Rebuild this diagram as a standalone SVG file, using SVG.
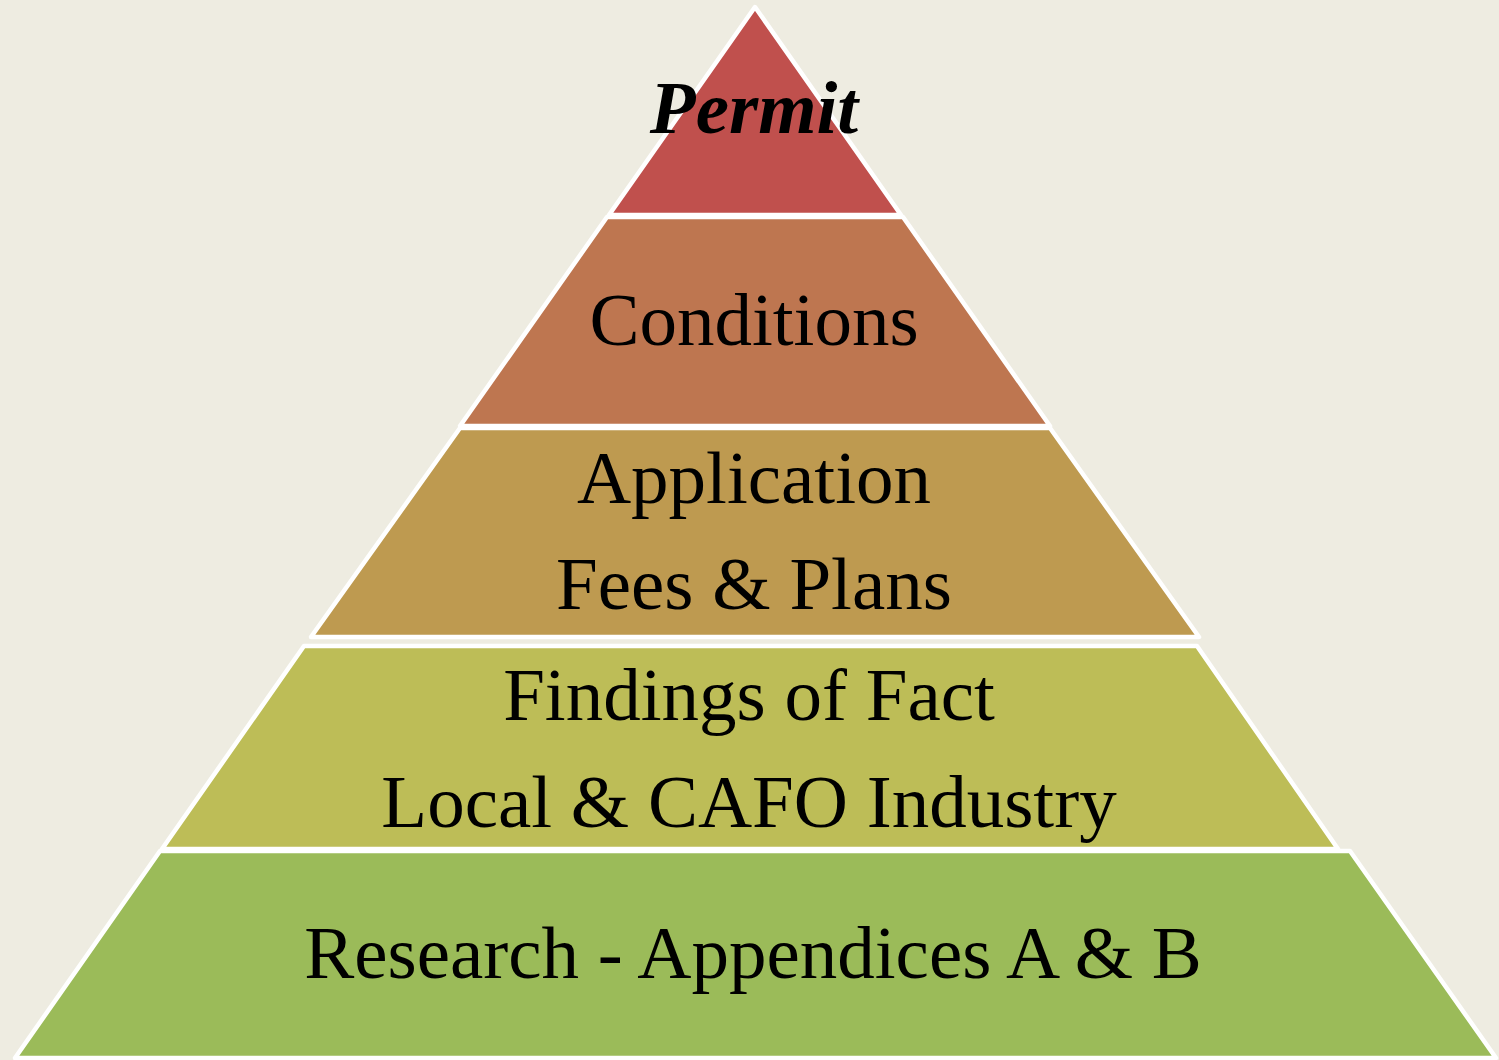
<svg xmlns="http://www.w3.org/2000/svg" width="1499" height="1060" viewBox="0 0 1499 1060">
<style>
.layer{stroke:#FFFFFF;stroke-width:4.5;stroke-linejoin:round}
.t{font-family:"Liberation Serif","Times New Roman",serif;font-size:75px;fill:#000;text-anchor:middle}
</style>
<rect width="1499" height="1060" fill="#EEECE1"/>
<g id="permit">
<polygon class="layer" fill="#C0504D" points="755,7 901,215 609,215"/>
<text class="t" x="754" y="133" font-weight="bold" font-style="italic">Permit</text>
</g>
<g id="conditions">
<polygon class="layer" fill="#BE7650" points="607,217 903,217 1050,426 460,426"/>
<text class="t" x="754" y="345">Conditions</text>
</g>
<g id="application">
<polygon class="layer" fill="#BE9A50" points="460,428 1050,428 1199,637 311,637"/>
<text class="t" x="754" y="503">Application</text>
<text class="t" x="754" y="609">Fees &amp; Plans</text>
</g>
<g id="findings">
<polygon class="layer" fill="#BDBD57" points="304,646 1197,646 1338,849 162,849"/>
<text class="t" x="749" y="720">Findings of Fact</text>
<text class="t" x="749" y="827">Local &amp; CAFO Industry</text>
</g>
<g id="research">
<polygon class="layer" fill="#9BBB59" points="160,851 1350,851 1496,1058 15,1058"/>
<text class="t" x="753" y="978">Research - Appendices A &amp; B</text>
</g>
<g id="connectors"></g>
</svg>
